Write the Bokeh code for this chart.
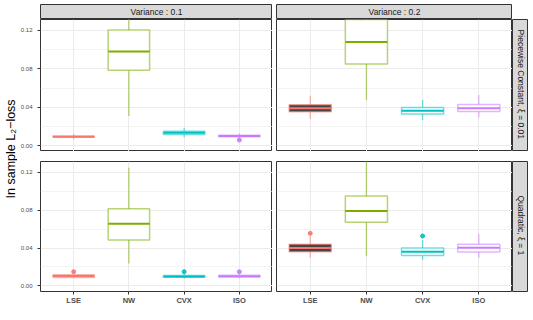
import math
from bokeh.plotting import figure
from bokeh.models import GridBox, FixedTicker, Range1d, Label, ColumnDataSource
from bokeh.embed import file_html
from bokeh.resources import INLINE

# ---------------- data ----------------
methods = ["LSE", "NW", "CVX", "ISO"]
method_colors = ["#F8766D", "#7CAE00", "#00BFC4", "#C77CFF"]
variance_labels = ["Variance : 0.1", "Variance : 0.2"]
model_labels = ["Piecewise Constant,  \u03be = 0.01", "Quadratic,  \u03be = 1"]
y_ticks = [0.0, 0.04, 0.08, 0.12]
y_tick_labels = ["0.00", "0.04", "0.08", "0.12"]
y_minor_ticks = [0.02, 0.06, 0.10]
y_title = "In sample L\u2082\u2212loss"

# Piecewise constant, variance 0.1
pc_v1_lo = [0.0068, 0.031, 0.0088, 0.0069]
pc_v1_q1 = [0.0088, 0.0786, 0.0118, 0.0094]
pc_v1_med = [0.0095, 0.098, 0.0135, 0.0102]
pc_v1_q3 = [0.0102, 0.1205, 0.0152, 0.0110]
pc_v1_hi = [0.0125, 0.160, 0.0185, 0.0128]

# Piecewise constant, variance 0.2
pc_v2_lo = [0.028, 0.0475, 0.0267, 0.0294]
pc_v2_q1 = [0.0353, 0.085, 0.033, 0.0356]
pc_v2_med = [0.039, 0.108, 0.0364, 0.039]
pc_v2_q3 = [0.0426, 0.137, 0.0398, 0.043]
pc_v2_hi = [0.052, 0.170, 0.0475, 0.0527]

# Quadratic, variance 0.1
qd_v1_lo = [0.0080, 0.0236, 0.0078, 0.0080]
qd_v1_q1 = [0.0090, 0.0485, 0.0092, 0.0094]
qd_v1_med = [0.0104, 0.0655, 0.0100, 0.0103]
qd_v1_q3 = [0.0118, 0.0815, 0.0110, 0.0112]
qd_v1_hi = [0.0130, 0.1247, 0.0125, 0.0130]

# Quadratic, variance 0.2
qd_v2_lo = [0.0295, 0.0312, 0.0277, 0.0295]
qd_v2_q1 = [0.036, 0.0672, 0.032, 0.0357]
qd_v2_med = [0.040, 0.079, 0.036, 0.0402]
qd_v2_q3 = [0.044, 0.095, 0.040, 0.044]
qd_v2_hi = [0.0525, 0.140, 0.0485, 0.0548]

# outliers: panel (row, col), method, value
outlier_row = [0, 1, 1, 1, 1, 1]
outlier_col = [0, 0, 0, 0, 1, 1]
outlier_method = ["ISO", "LSE", "CVX", "ISO", "LSE", "CVX"]
outlier_value = [0.0060, 0.0150, 0.0150, 0.0150, 0.0555, 0.0527]

panel_stats = {
    (0, 0): (pc_v1_lo, pc_v1_q1, pc_v1_med, pc_v1_q3, pc_v1_hi),
    (0, 1): (pc_v2_lo, pc_v2_q1, pc_v2_med, pc_v2_q3, pc_v2_hi),
    (1, 0): (qd_v1_lo, qd_v1_q1, qd_v1_med, qd_v1_q3, qd_v1_hi),
    (1, 1): (qd_v2_lo, qd_v2_q1, qd_v2_med, qd_v2_q3, qd_v2_hi),
}

# ---------------- style ----------------
FONT = "Liberation Sans"
FW, FH = 236, 132          # panel frame size
GAP = 10                   # vertical gap between panel rows
TOP_PAD = 4
STRIP_H, STRIP_W = 15, 16
YLAB_W = 17
AXIS_L = 19
AXIS_B = 14
HGAP = 4
Y_LO, Y_HI = -0.0059, 0.1313
BOX_W = 0.75
STRIP_FILL = "#d9d9d9"
BORDER = "#333333"
GRID = "#ebebeb"
STRIP_FONT = "8.5px"
# box fill per panel (dark fill for LSE in the variance 0.2 panels)
box_fill = {
    (0, 0): ["white", "white", "white", "white"],
    (0, 1): ["#454545", "white", "white", "white"],
    (1, 0): ["white", "white", "white", "white"],
    (1, 1): ["#454545", "white", "white", "white"],
}


def base_fig(width, height, **kw):
    p = figure(width=width, height=height, output_backend="svg",
               toolbar_location=None, min_border=0, **kw)
    p.border_fill_color = "white"
    return p


def panel(r, c):
    left = AXIS_L if c == 0 else HGAP
    top = 0 if r == 0 else GAP
    bottom = 0 if r == 0 else AXIS_B
    p = base_fig(left + FW, top + FH + bottom,
                 x_range=Range1d(0.4, 4.6), y_range=Range1d(Y_LO, Y_HI),
                 min_border_left=left, min_border_top=top,
                 min_border_bottom=bottom, min_border_right=0)
    p.outline_line_color = BORDER
    p.outline_line_width = 1
    p.background_fill_color = "white"

    xt = FixedTicker(ticks=[1, 2, 3, 4])
    yt = FixedTicker(ticks=y_ticks, minor_ticks=y_minor_ticks)
    p.xaxis.ticker = xt
    p.yaxis.ticker = yt
    p.xgrid.ticker = xt
    p.ygrid.ticker = yt
    p.xgrid.grid_line_color = GRID
    p.ygrid.grid_line_color = GRID
    p.ygrid.minor_grid_line_color = GRID
    p.ygrid.minor_grid_line_width = 0.6

    p.xaxis.major_label_overrides = {i + 1: m for i, m in enumerate(methods)}
    p.yaxis.major_label_overrides = dict(zip(y_ticks, y_tick_labels))
    for ax in p.axis:
        ax.axis_line_color = None
        ax.major_tick_line_color = BORDER
        ax.major_tick_in = 0
        ax.major_tick_out = 3
        ax.minor_tick_line_color = None
        ax.major_label_text_color = "#4d4d4d"
        ax.major_label_text_font = FONT
    p.yaxis.major_label_text_font_size = "6px"
    p.yaxis.major_label_standoff = 4
    p.xaxis.major_label_text_font_size = "7.5px"
    p.xaxis.major_label_text_font_style = "bold"
    p.xaxis.major_label_standoff = 1
    p.xaxis.visible = (r == 1)
    p.yaxis.visible = (c == 0)

    lo, q1, med, q3, hi = panel_stats[(r, c)]
    xs = [i + 1 for i in range(len(methods))]
    src = ColumnDataSource(dict(
        x=xs, lo=lo, q1=q1, med=med, q3=q3, hi=hi,
        xl=[x - BOX_W / 2 for x in xs], xr=[x + BOX_W / 2 for x in xs],
        color=method_colors, fill=box_fill[(r, c)]))
    p.segment(x0="x", y0="q3", x1="x", y1="hi", source=src,
              line_color="color", line_alpha=0.55, line_width=1.3)
    p.segment(x0="x", y0="lo", x1="x", y1="q1", source=src,
              line_color="color", line_alpha=0.55, line_width=1.3)
    p.vbar(x="x", width=BOX_W, bottom="q1", top="q3", source=src,
           fill_color="fill", line_color="color", line_alpha=0.55,
           line_width=1.5)
    p.segment(x0="xl", y0="med", x1="xr", y1="med", source=src,
              line_color="color", line_width=2)

    ox, oy, oc = [], [], []
    for rr, cc, m, v in zip(outlier_row, outlier_col, outlier_method, outlier_value):
        if rr == r and cc == c:
            k = methods.index(m)
            ox.append(k + 1)
            oy.append(v)
            oc.append(method_colors[k])
    if ox:
        p.scatter(x=ox, y=oy, size=4, color=oc, line_alpha=0.9, fill_alpha=0.9)
    return p


def top_strip(c):
    left = AXIS_L if c == 0 else HGAP
    p = base_fig(left + FW, TOP_PAD + STRIP_H, x_range=Range1d(0, 1),
                 y_range=Range1d(0, 1), min_border_left=left,
                 min_border_top=TOP_PAD)
    p.axis.visible = False
    p.grid.visible = False
    p.background_fill_color = STRIP_FILL
    p.outline_line_color = BORDER
    p.outline_line_width = 1
    p.add_layout(Label(x=0.5, y=0.5, text=variance_labels[c], text_align="center",
                       text_baseline="middle", text_font=FONT,
                       text_font_size=STRIP_FONT, text_color="#1a1a1a"))
    return p


def right_strip(r):
    top = 0 if r == 0 else GAP
    bottom = 0 if r == 0 else AXIS_B
    p = base_fig(STRIP_W, top + FH + bottom, x_range=Range1d(0, 1),
                 y_range=Range1d(0, 1), min_border_top=top, min_border_bottom=bottom)
    p.axis.visible = False
    p.grid.visible = False
    p.background_fill_color = STRIP_FILL
    p.outline_line_color = BORDER
    p.outline_line_width = 1
    p.add_layout(Label(x=0.5, y=0.5, text=model_labels[r], text_align="center",
                       text_baseline="middle", angle=-math.pi / 2, text_font=FONT,
                       text_font_size=STRIP_FONT, text_color="#1a1a1a"))
    return p


total_h = FH + GAP + FH + AXIS_B
ylab = base_fig(YLAB_W, total_h, x_range=Range1d(0, YLAB_W), y_range=Range1d(0, total_h))
ylab.axis.visible = False
ylab.grid.visible = False
ylab.outline_line_color = None
ylab.add_layout(Label(x=10, y=total_h - (2 * FH + GAP) / 2, text=y_title,
                      text_align="center", text_baseline="middle", angle=math.pi / 2,
                      text_font=FONT, text_font_size="12.5px", text_color="black"))

children = [
    (top_strip(0), 0, 1), (top_strip(1), 0, 2),
    (ylab, 1, 0, 2, 1),
    (panel(0, 0), 1, 1), (panel(0, 1), 1, 2), (right_strip(0), 1, 3),
    (panel(1, 0), 2, 1), (panel(1, 1), 2, 2), (right_strip(1), 2, 3),
]
grid = GridBox(children=children, spacing=0)

open("out.html", "w").write(file_html(grid, INLINE))
